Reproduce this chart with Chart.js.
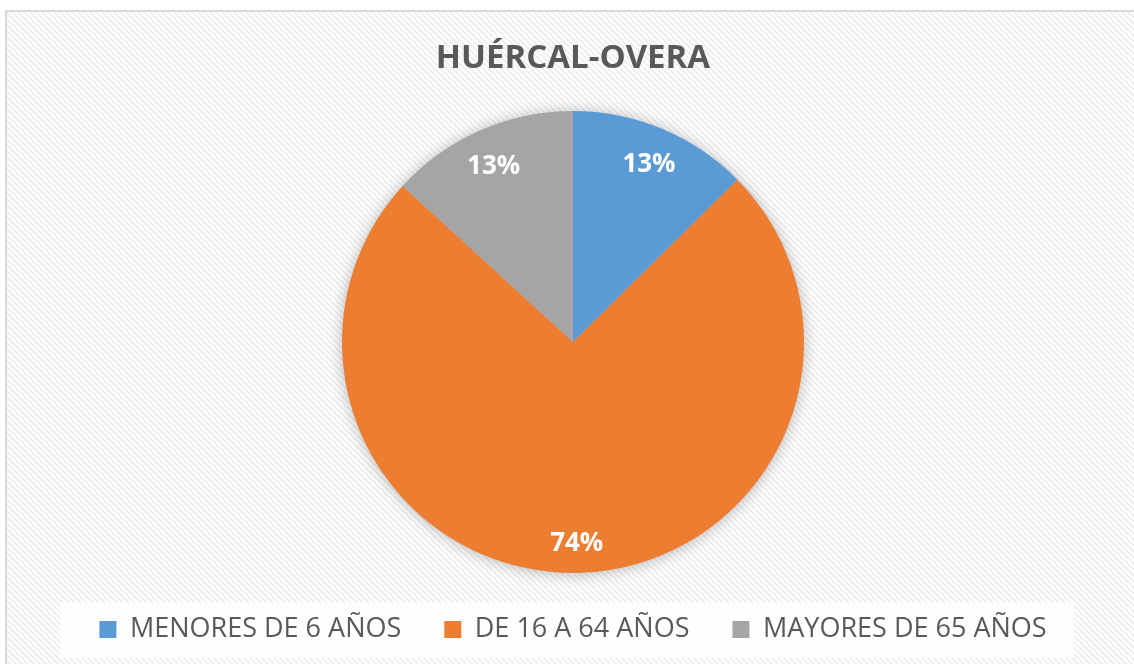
<!DOCTYPE html>
<html>
<head>
<meta charset="utf-8">
<script src="https://cdn.jsdelivr.net/npm/chart.js@4/dist/chart.umd.min.js"></script>
<style>
  html, body { margin: 0; padding: 0; background: #ffffff; }
  #wrap { width: 1134px; height: 664px; position: relative; }
</style>
</head>
<body>
<div id="wrap"><canvas id="c" width="1134" height="664"></canvas></div>
<script>
const chartTitle = 'HUÉRCAL-OVERA';
const categories = ['MENORES DE 6 AÑOS', 'DE 16 A 64 AÑOS', 'MAYORES DE 65 AÑOS'];
const shares = [12.6, 74.2, 13.2];
const sliceColors = ['#5B9BD5', '#ED7D31', '#A5A5A5'];

function makeHatch() {
  const p = document.createElement('canvas');
  p.width = 6; p.height = 6;
  const g = p.getContext('2d');
  g.fillStyle = '#ffffff';
  g.fillRect(0, 0, 6, 6);
  g.strokeStyle = '#efefef';
  g.lineWidth = 2;
  g.beginPath();
  g.moveTo(-3, -3); g.lineTo(9, 9);
  g.moveTo(-3, 3); g.lineTo(3, 9);
  g.moveTo(3, -3); g.lineTo(9, 3);
  g.stroke();
  return g.createPattern(p, 'repeat');
}

const backgroundPlugin = {
  id: 'bg',
  beforeDraw(chart) {
    const ctx = chart.ctx;
    ctx.save();
    ctx.fillStyle = '#ffffff';
    ctx.fillRect(0, 0, chart.width, chart.height);
    ctx.fillStyle = makeHatch();
    ctx.fillRect(6, 11, chart.width, chart.height);
    ctx.strokeStyle = '#d9d9d9';
    ctx.lineWidth = 2;
    ctx.strokeRect(6, 11, chart.width + 10, chart.height + 10);
    const lg = chart.legend;
    if (lg && lg.legendHitBoxes && lg.legendHitBoxes.length) {
      const hb = lg.legendHitBoxes;
      const first = hb[0], last = hb[hb.length - 1];
      const cy = first.top + first.height / 2;
      ctx.fillStyle = 'rgba(255,255,255,0.85)';
      ctx.fillRect(first.left - 39, cy - 27, (last.left + last.width + 27) - (first.left - 39), 55);
    }
    ctx.restore();
  }
};

const shadowPlugin = {
  id: 'pieShadow',
  beforeDatasetsDraw(chart) {
    const meta = chart.getDatasetMeta(0);
    if (!meta.data.length) return;
    const a = meta.data[0];
    const ctx = chart.ctx;
    ctx.save();
    ctx.shadowColor = 'rgba(0,0,0,0.3)';
    ctx.shadowBlur = 16;
    ctx.shadowOffsetX = 0;
    ctx.shadowOffsetY = 1;
    ctx.fillStyle = '#bfbfbf';
    ctx.beginPath();
    ctx.arc(a.x, a.y, a.outerRadius - 1, 0, Math.PI * 2);
    ctx.fill();
    ctx.restore();
  }
};

const labelPlugin = {
  id: 'sliceLabels',
  afterDatasetsDraw(chart) {
    const ctx = chart.ctx;
    const meta = chart.getDatasetMeta(0);
    const data = chart.data.datasets[0].data;
    const total = data.reduce((s, v) => s + v, 0);
    const size = 26;
    ctx.save();
    ctx.fillStyle = '#ffffff';
    ctx.font = 'bold ' + size + 'px "Open Sans"';
    ctx.textAlign = 'center';
    ctx.textBaseline = 'middle';
    meta.data.forEach((arc, i) => {
      const mid = (arc.startAngle + arc.endAngle) / 2;
      const r = arc.outerRadius - 34;
      const x = arc.x + Math.cos(mid) * r;
      const y = arc.y + Math.sin(mid) * r + size * 0.18;
      ctx.fillText(Math.round(data[i] / total * 100) + '%', x, y);
    });
    ctx.restore();
  }
};

new Chart(document.getElementById('c'), {
  type: 'pie',
  data: {
    labels: categories,
    datasets: [{
      data: shares,
      backgroundColor: sliceColors,
      borderWidth: 0,
      hoverOffset: 0,
      offset: 0
    }]
  },
  options: {
    responsive: false,
    animation: false,
    events: [],
    layout: { padding: { left: 12, right: 0, top: 0, bottom: 11 } },
    plugins: {
      title: {
        display: true,
        text: chartTitle,
        color: '#595959',
        font: { family: '"Open Sans"', size: 33, weight: 'bold', lineHeight: 1.2 },
        padding: { top: 39, bottom: 32.4 }
      },
      legend: {
        display: true,
        position: 'bottom',
        labels: {
          color: '#595959',
          font: { family: '"Open Sans"', size: 27 },
          boxWidth: 17,
          boxHeight: 17,
          padding: 43
        }
      },
      tooltip: { enabled: false }
    }
  },
  plugins: [backgroundPlugin, shadowPlugin, labelPlugin]
});
</script>
</body>
</html>
